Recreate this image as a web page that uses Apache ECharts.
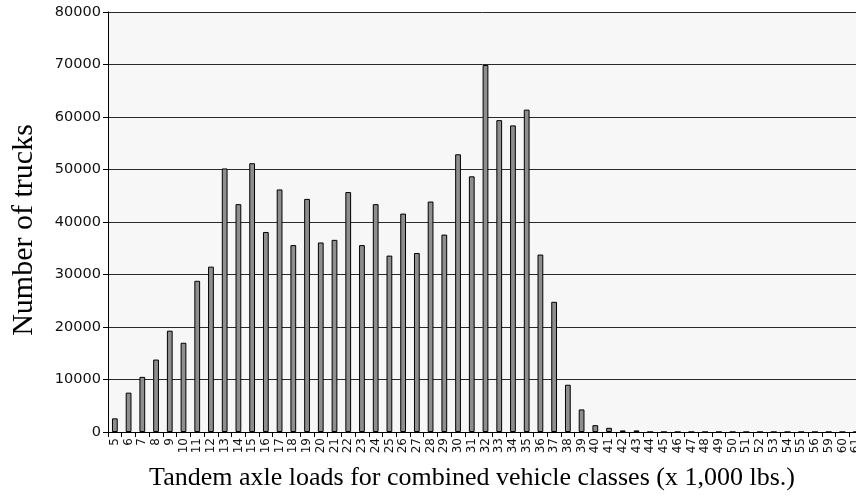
<!DOCTYPE html>
<html>
<head>
<meta charset="utf-8">
<script src="https://cdn.jsdelivr.net/npm/echarts@6/dist/echarts.min.js"></script>
<style>
html,body{margin:0;padding:0;background:#fff;}
#chart{width:856px;height:498px;}
</style>
</head>
<body>
<div id="chart"></div>
<script>
const categories = ['5','6','7','8','9','10','11','12','13','14','15','16','17','18','19','20','21','22','23','24','25','26','27','28','29','30','31','32','33','34','35','36','37','38','39','40','41','42','43','44','45','46','47','48','49','50','51','52','53','54','55','56','59','60','61'];
const trucks = [2600,7500,10500,13800,19300,17000,28800,31500,50200,43400,51200,38100,46200,35600,44400,36100,36600,45700,35600,43400,33600,41600,34100,43900,37600,52900,48700,69900,59400,58400,61400,33800,24800,9000,4300,1300,800,300,300,0,0,0,0,0,0,0,0,0,0,0,0,0,0,0,0];
const yTicks = [0,10000,20000,30000,40000,50000,60000,70000,80000];
const xTitle = 'Tandem axle loads for combined vehicle classes (x 1,000 lbs.)';
const yTitle = 'Number of trucks';

const chart = echarts.init(document.getElementById('chart'), null, {renderer:'canvas'});
chart.setOption({
  animation:false,
  backgroundColor:'#ffffff',
  grid:{left:108, top:12, bottom:66, right:-7, show:true, backgroundColor:'#f7f7f7', borderWidth:0, containLabel:false, outerBoundsMode:'none'},
  xAxis:{
    type:'category',
    data:categories,
    boundaryGap:true,
    axisLine:{show:true, lineStyle:{color:'#000', width:1}},
    axisTick:{show:true, alignWithLabel:false, interval:0, length:5, lineStyle:{color:'#000'}},
    axisLabel:{interval:0, rotate:90, margin:6, fontFamily:'DejaVu Sans', fontSize:12, color:'#111'},
    name:xTitle,
    nameLocation:'middle',
    nameGap:33,
    nameTextStyle:{fontFamily:'Liberation Serif', fontSize:26, color:'#000', padding:[0,27,0,0], verticalAlign:'top'}
  },
  yAxis:{
    type:'value',
    min:yTicks[0],
    max:yTicks[yTicks.length-1],
    interval:yTicks[1]-yTicks[0],
    axisLine:{show:true, lineStyle:{color:'#000', width:1}},
    axisTick:{show:true, length:5, lineStyle:{color:'#000'}},
    axisLabel:{margin:7, fontFamily:'DejaVu Sans', fontSize:14.5, color:'#111', formatter:function(v){return String(v);}},
    splitLine:{show:true, lineStyle:{color:'#2a2a2a', width:1}},
    name:yTitle,
    nameLocation:'middle',
    nameGap:69,
    nameRotate:90,
    nameTextStyle:{fontFamily:'Liberation Serif', fontSize:30, color:'#000', padding:[0,16,0,0]}
  },
  series:[{
    type:'bar',
    data:trucks,
    barWidth:'42%',
    itemStyle:{color:'#8e8e8e', borderColor:'#000', borderWidth:1}
  }]
});
</script>
</body>
</html>
